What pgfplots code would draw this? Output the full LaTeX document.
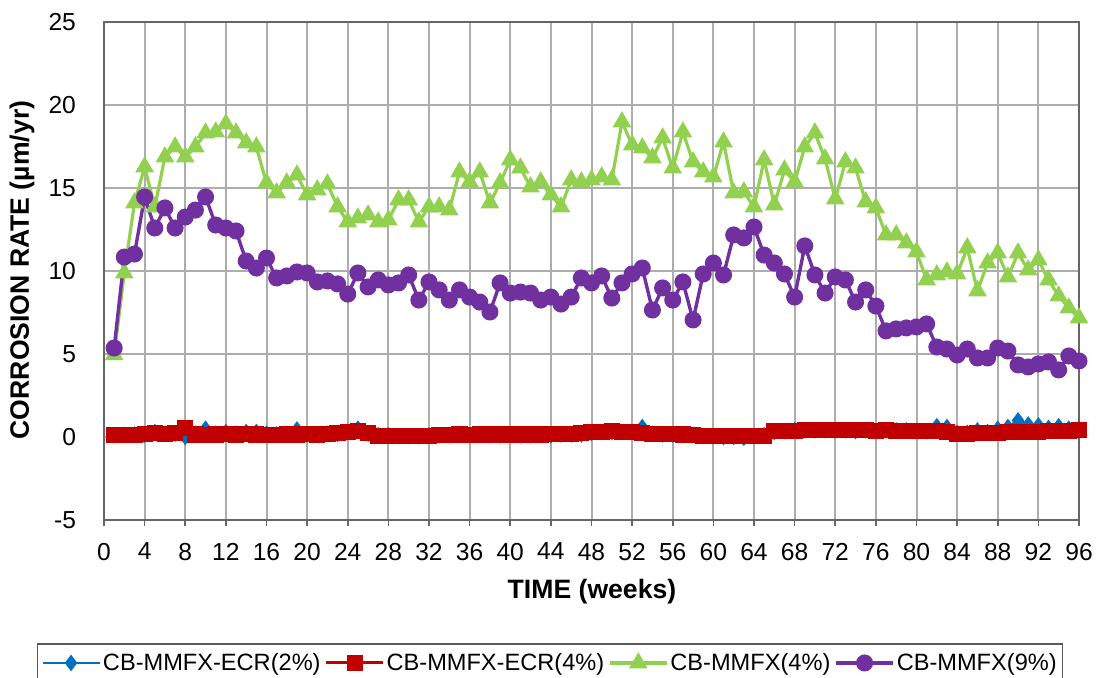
\documentclass[border=0pt]{standalone}
\usepackage{pgfplots}
\usepackage{pgfplotstable}
\usepackage{fontspec}
\setmainfont{Liberation Sans}
\pgfplotsset{compat=1.18}
\definecolor{ecrblue}{HTML}{0070C0}
\definecolor{ecrred}{HTML}{C00000}
\definecolor{mmfxgreen}{HTML}{92D050}
\definecolor{mmfxpurple}{HTML}{7030A0}

\pgfplotstableread{
week ecr2 ecr4 mmfx4 mmfx9
1 0.10 0.10 4.95 5.36
2 0.12 0.12 9.88 10.84
3 0.15 0.12 14.10 11.02
4 0.15 0.20 16.27 14.46
5 0.30 0.22 13.86 12.59
6 0.20 0.20 16.87 13.80
7 0.20 0.22 17.47 12.59
8 0.00 0.55 16.87 13.25
9 0.20 0.15 17.47 13.67
10 0.50 0.12 18.31 14.46
11 0.20 0.15 18.37 12.77
12 0.30 0.18 18.86 12.59
13 0.20 0.15 18.31 12.41
14 0.30 0.18 17.71 10.60
15 0.30 0.15 17.47 10.18
16 0.20 0.12 15.30 10.78
17 0.15 0.12 14.70 9.58
18 0.20 0.15 15.30 9.70
19 0.45 0.15 15.78 9.94
20 0.15 0.18 14.58 9.88
21 0.15 0.15 14.88 9.34
22 0.20 0.18 15.24 9.40
23 0.20 0.22 13.86 9.22
24 0.30 0.28 12.95 8.61
25 0.50 0.35 13.19 9.88
26 0.20 0.25 13.37 9.04
27 0.10 0.08 12.95 9.46
28 0.10 0.08 13.07 9.16
29 0.05 0.05 14.28 9.28
30 0.05 0.08 14.28 9.76
31 0.05 0.05 12.95 8.25
32 0.10 0.08 13.86 9.34
33 0.10 0.10 13.86 8.86
34 0.10 0.12 13.67 8.25
35 0.15 0.15 15.96 8.86
36 0.10 0.12 15.36 8.43
37 0.15 0.15 15.96 8.13
38 0.10 0.15 14.10 7.53
39 0.10 0.15 15.30 9.28
40 0.15 0.15 16.69 8.67
41 0.10 0.15 16.20 8.73
42 0.10 0.15 15.06 8.67
43 0.12 0.15 15.36 8.25
44 0.10 0.18 14.58 8.43
45 0.15 0.18 13.86 8.01
46 0.15 0.20 15.48 8.43
47 0.15 0.22 15.36 9.58
48 0.25 0.30 15.48 9.28
49 0.30 0.32 15.66 9.70
50 0.30 0.35 15.48 8.37
51 0.30 0.32 18.98 9.28
52 0.30 0.30 17.59 9.82
53 0.60 0.22 17.41 10.18
54 0.20 0.20 16.81 7.65
55 0.15 0.18 18.01 8.98
56 0.15 0.18 16.20 8.25
57 0.15 0.15 18.37 9.34
58 0.10 0.10 16.57 7.05
59 0.05 0.08 15.96 9.82
60 0.05 0.08 15.66 10.48
61 0.00 0.05 17.77 9.76
62 0.00 0.05 14.70 12.17
63 -0.05 0.05 14.76 11.99
64 0.05 0.05 13.86 12.65
65 0.10 0.08 16.69 10.96
66 0.30 0.35 13.98 10.48
67 0.35 0.38 16.08 9.82
68 0.40 0.38 15.36 8.43
69 0.40 0.40 17.47 11.51
70 0.40 0.42 18.31 9.76
71 0.40 0.42 16.75 8.67
72 0.40 0.40 14.34 9.64
73 0.40 0.42 16.57 9.46
74 0.35 0.40 16.20 8.13
75 0.40 0.40 14.16 8.86
76 0.35 0.38 13.80 7.89
77 0.40 0.40 12.17 6.39
78 0.40 0.38 12.17 6.51
79 0.40 0.38 11.69 6.57
80 0.35 0.35 11.14 6.63
81 0.35 0.35 9.46 6.81
82 0.65 0.38 9.76 5.42
83 0.60 0.30 9.94 5.30
84 0.25 0.20 9.82 4.94
85 0.25 0.20 11.39 5.30
86 0.40 0.22 8.80 4.76
87 0.30 0.22 10.48 4.76
88 0.50 0.25 11.08 5.36
89 0.60 0.28 9.64 5.18
90 1.00 0.30 11.08 4.34
91 0.75 0.30 10.06 4.22
92 0.70 0.32 10.66 4.40
93 0.55 0.35 9.46 4.52
94 0.65 0.35 8.49 4.04
95 0.50 0.38 7.77 4.88
96 0.50 0.40 7.17 4.58
}\corrosion

\begin{document}
\begin{tikzpicture}
\useasboundingbox (0,0) rectangle (550pt,339pt);
\begin{axis}[
at={(52pt,79pt)},
anchor=south west,
scale only axis,
width=487.5pt,
height=249pt,
xmin=0, xmax=96,
ymin=-5, ymax=25,
xtick={0,4,...,96},
ytick={-5,0,...,25},
grid=major,
major grid style={draw=black!32, line width=1pt},
axis line style={draw=black!60, line width=1pt},
xtick pos=bottom,
tick align=outside,
major tick length=3pt,
xtick style={draw=black!60, line width=0.8pt},
ytick style={draw=none},
/pgf/number format/assume math mode=true,
tick label style={font=\fontsize{12.3}{14}\selectfont},
xticklabel style={yshift=-5pt},
yticklabel style={xshift=-7.5pt},
xlabel={\textbf{TIME (weeks)}},
ylabel={\textbf{CORROSION RATE (µm/yr)}},
label style={font=\fontsize{13.3}{16}\selectfont},
xlabel style={at={(axis description cs:0.5005,-0.1446)}, anchor=center},
ylabel style={at={(axis description cs:-0.0841,0.502)}, anchor=center, rotate=0},
legend columns=4,
legend style={
  at={(axis description cs:0.4574,-0.2871)}, anchor=center,
  draw=black!65, line width=0.6pt,
  font=\fontsize{11.8}{14}\selectfont,
  inner xsep=2pt, inner ysep=2.5pt,
  /tikz/every even column/.append style={column sep=1pt},
  nodes={inner xsep=1pt}
},
legend cell align=left,
legend image code/.code={\draw[mark repeat=2,mark phase=2,#1] plot coordinates {(0pt,0pt) (14.25pt,0pt) (28.5pt,0pt)};},
clip=false
]
\addplot[color=ecrblue, line width=1.4pt, mark=diamond*, mark size=3pt,
  mark options={solid, fill=ecrblue}] table[x=week, y=ecr2] {\corrosion};
\addlegendentry{CB-MMFX-ECR(2\%)}
\addplot[color=ecrred, line width=1.5pt, mark=square*, mark size=3.3pt,
  mark options={solid, fill=ecrred}] table[x=week, y=ecr4] {\corrosion};
\addlegendentry{CB-MMFX-ECR(4\%)}
\addplot[color=mmfxgreen, line width=1.6pt, mark=triangle*, mark size=3.8pt,
  mark options={solid, fill=mmfxgreen}] table[x=week, y=mmfx4] {\corrosion};
\addlegendentry{CB-MMFX(4\%)}
\addplot[color=mmfxpurple, line width=1.7pt, mark=*, mark size=3.4pt,
  mark options={solid, fill=mmfxpurple}] table[x=week, y=mmfx9] {\corrosion};
\addlegendentry{CB-MMFX(9\%)}
\end{axis}
\end{tikzpicture}
\end{document}
